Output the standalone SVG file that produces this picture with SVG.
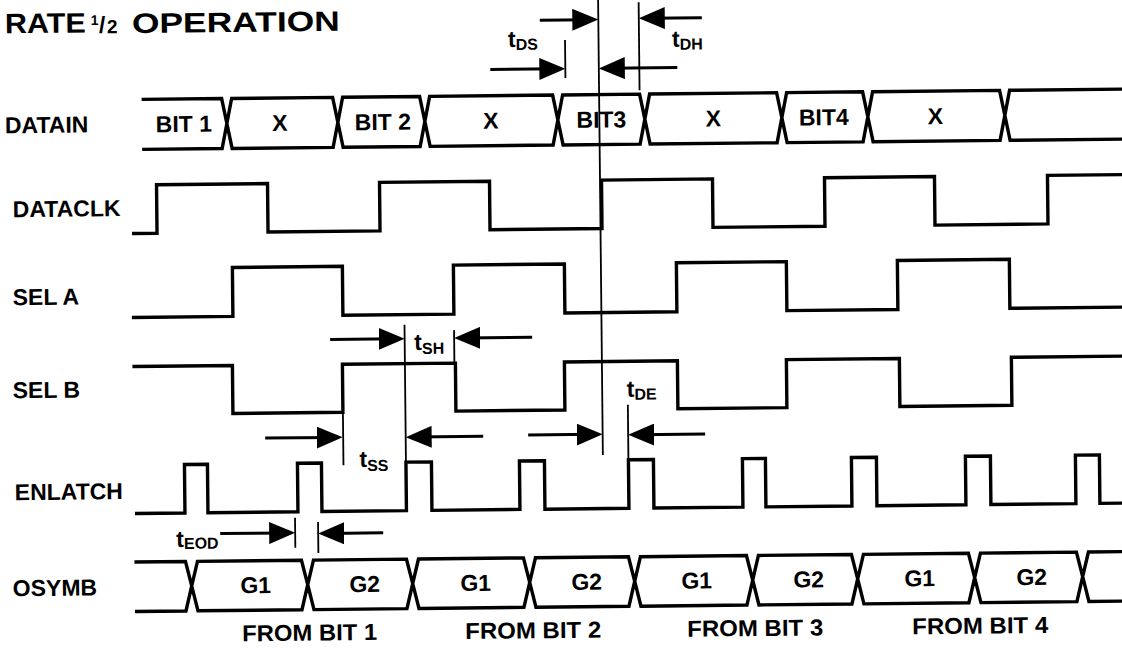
<svg xmlns="http://www.w3.org/2000/svg" width="1122" height="649" viewBox="0 0 1122 649">
<style>
text{font-family:"Liberation Sans",Arial,Helvetica,sans-serif;font-weight:bold;fill:#000}
.lbl{font-size:23px}
.in{font-size:23px;text-anchor:middle}
.sig{fill:none;stroke:#000;stroke-width:3.4;stroke-linejoin:miter}
.bus{fill:none;stroke:#000;stroke-width:3.4;stroke-linejoin:miter}
.guide{stroke:#000;stroke-width:1.8;fill:none}
.arr{stroke:#000;stroke-width:3;fill:none;marker-end:url(#ah)}
.t{font-size:23px}
.sub{font-size:16px}
</style>
<defs>
<marker id="ah" markerUnits="userSpaceOnUse" markerWidth="28" markerHeight="22" refX="16" refY="11" orient="auto">
<path d="M0,0 L26,11 L0,22 Z" fill="#000"/>
</marker>
</defs>
<rect width="1122" height="649" fill="#fff"/>
<g transform="rotate(-0.6 561 324)">
<g id="title">
<text font-size="28"><tspan x="8" y="27.5" textLength="81" lengthAdjust="spacingAndGlyphs">RATE</tspan><tspan x="94" y="20" font-size="14">1</tspan><tspan x="102" y="28" font-size="23">/</tspan><tspan x="110" y="28.5" font-size="19">2</tspan><tspan x="135" y="28.5" textLength="208" lengthAdjust="spacingAndGlyphs">OPERATION</tspan></text>
</g>
<g id="datain">
<text class="lbl" x="7" y="127.5">DATAIN</text>
<path class="bus" d="M144,95 H224 L229,120 L224,145 H144
M229,120 L234,95 H335 L340,120 L335,145 H234 Z
M340,120 L345,95 H422 L427,120 L422,145 H345 Z
M427,120 L432,95 H555 L560,120 L555,145 H432 Z
M560,120 L565,95 H642 L647,120 L642,145 H565 Z
M647,120 L652,95 H779 L784,120 L779,145 H652 Z
M784,120 L789,95 H865 L870,120 L865,145 H789 Z
M870,120 L875,95 H1002 L1007,120 L1002,145 H875 Z
M1135,95 H1012 L1007,120 L1012,145 H1135"/>
<text class="in" x="186" y="128">BIT 1</text>
<text class="in" x="282" y="128">X</text>
<text class="in" x="385" y="128">BIT 2</text>
<text class="in" x="493" y="128">X</text>
<text class="in" x="603.5" y="128">BIT3</text>
<text class="in" x="715.5" y="128">X</text>
<text class="in" x="826" y="128">BIT4</text>
<text class="in" x="937.5" y="128">X</text>
</g>
<g id="dataclk">
<text class="lbl" x="14" y="211.5">DATACLK</text>
<path class="sig" d="M133,229 H158 V180.5 H269 V229 H381 V180.5 H491 V229 H603 V180.5 H714 V229 H826 V180.5 H936 V229 H1049 V180.5 H1135"/>
</g>
<g id="sela">
<text class="lbl" x="13" y="299.5">SEL A</text>
<path class="sig" d="M132,313 H233 V264 H343 V313 H454 V264 H565 V313 H677 V264 H787 V313 H898 V264 H1010 V313 H1135"/>
</g>
<g id="selb">
<text class="lbl" x="12" y="392.5">SEL B</text>
<path class="sig" d="M132,362 H232 V410 H342 V362 H455 V410 H564 V362 H677 V410 H786 V362 H899 V410 H1011 V362 H1135"/>
</g>
<g id="enlatch">
<text class="lbl" x="13" y="494.5">ENLATCH</text>
<path class="sig" d="M133,509 H183 V460.5 H206 V509 H296 V460.5 H320 V509 H404.5 V460.5 H430 V509 H518 V460.5 H543 V509 H627 V460.5 H652 V509 H741 V460.5 H764 V509 H850 V460.5 H875 V509 H964 V460.5 H989 V509 H1074 V460.5 H1098 V509 H1135"/>
</g>
<g id="osymb">
<text class="lbl" x="10" y="590.5">OSYMB</text>
<path class="bus" d="M132,557.5 H183 L189,582 L183,607 H132
M189,582 L195,557.5 H299 L305,582 L299,607 H195 Z
M305,582 L311,557.5 H404 L410,582 L404,607 H311 Z
M410,582 L416,557.5 H521 L527,582 L521,607 H416 Z
M527,582 L533,557.5 H626 L632,582 L626,607 H533 Z
M632,582 L638,557.5 H744 L750,582 L744,607 H638 Z
M750,582 L756,557.5 H849 L855,582 L849,607 H756 Z
M855,582 L861,557.5 H966 L972,582 L966,607 H861 Z
M972,582 L978,557.5 H1074 L1080,582 L1074,607 H978 Z
M1135,557.5 H1086 L1080,582 L1086,607 H1135"/>
<text class="in" x="253" y="590">G1</text>
<text class="in" x="362" y="590">G2</text>
<text class="in" x="473" y="590">G1</text>
<text class="in" x="584" y="590">G2</text>
<text class="in" x="694" y="590">G1</text>
<text class="in" x="806" y="590">G2</text>
<text class="in" x="917" y="590">G1</text>
<text class="in" x="1029" y="590">G2</text>
<text class="lbl" x="239" y="638" textLength="135" lengthAdjust="spacingAndGlyphs">FROM BIT 1</text>
<text class="lbl" x="462" y="638" textLength="136" lengthAdjust="spacingAndGlyphs">FROM BIT 2</text>
<text class="lbl" x="684" y="638" textLength="136" lengthAdjust="spacingAndGlyphs">FROM BIT 3</text>
<text class="lbl" x="909" y="638" textLength="136" lengthAdjust="spacingAndGlyphs">FROM BIT 4</text>
</g>
<g id="connectors">
<line class="guide" x1="601.5" y1="-6" x2="601.5" y2="455.5"/>
<line class="guide" x1="568" y1="40" x2="568" y2="78"/>
<line class="guide" x1="642" y1="3" x2="642" y2="91"/>
<line class="guide" x1="404.5" y1="323" x2="404.5" y2="460.5"/>
<line class="guide" x1="454" y1="329" x2="454" y2="362"/>
<line class="guide" x1="342" y1="410" x2="342" y2="463"/>
<line class="guide" x1="627" y1="405.5" x2="627" y2="460.5"/>
<line class="guide" x1="293" y1="515" x2="293" y2="545"/>
<line class="guide" x1="316" y1="519.5" x2="316" y2="550.5"/>
<line class="arr" x1="543" y1="20" x2="591.5" y2="20"/>
<line class="arr" x1="493" y1="68.7" x2="558" y2="68.7"/>
<line class="arr" x1="680" y1="68.8" x2="611.5" y2="68.8"/>
<line class="arr" x1="705" y1="19.2" x2="652" y2="19.2"/>
<line class="arr" x1="330" y1="337" x2="394.5" y2="337"/>
<line class="arr" x1="532" y1="337" x2="464" y2="337"/>
<line class="arr" x1="264" y1="435" x2="331.5" y2="435"/>
<line class="arr" x1="482" y1="435.5" x2="414.5" y2="435.5"/>
<line class="arr" x1="527" y1="434.7" x2="591.5" y2="434.7"/>
<line class="arr" x1="704" y1="435.5" x2="637" y2="435.5"/>
<line class="arr" x1="218" y1="530" x2="283" y2="530"/>
<line class="arr" x1="381" y1="531" x2="326" y2="531"/>
<text class="t" x="511" y="46.5">t<tspan class="sub" dy="3">DS</tspan></text>
<text class="t" x="675" y="48">t<tspan class="sub" dy="3">DH</tspan></text>
<text class="t" x="414" y="348.5">t<tspan class="sub" dy="4">SH</tspan></text>
<text class="t" x="358" y="465">t<tspan class="sub" dy="4">SS</tspan></text>
<text class="t" x="626" y="397.5">t<tspan class="sub" dy="3">DE</tspan></text>
<text class="t" x="174" y="543">t<tspan class="sub" dy="2">EOD</tspan></text>
</g>
</g>
</svg>
